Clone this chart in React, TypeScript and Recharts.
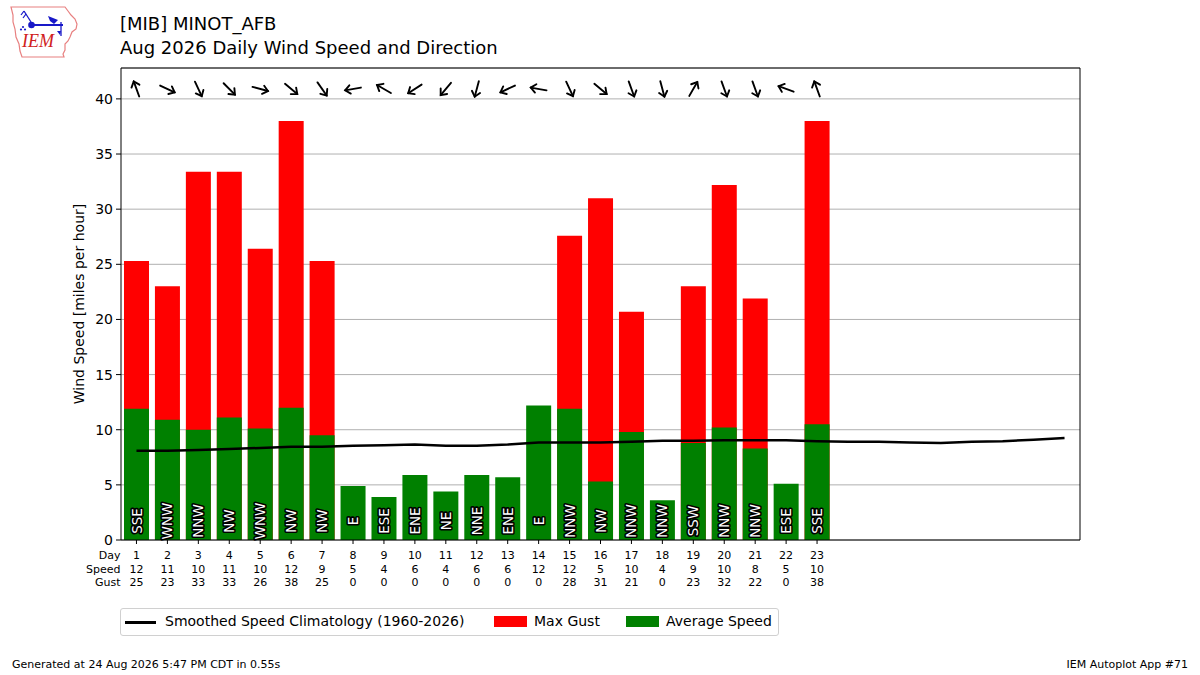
import { ComposedChart, Bar, Line, Scatter, XAxis, YAxis, CartesianGrid, LabelList } from 'recharts';

const FONT = '"DejaVu Sans", sans-serif';

// days of the month (x categories)
const days = [1, 2, 3, 4, 5, 6, 7, 8, 9, 10, 11, 12, 13, 14, 15, 16, 17, 18, 19, 20, 21, 22, 23, 24, 25, 26, 27, 28, 29, 30, 31];

// observed values, days 1..23
const avgSpeed = [11.9, 10.9, 10.0, 11.1, 10.1, 12.0, 9.5, 4.9, 3.9, 5.9, 4.4, 5.9, 5.7, 12.2, 11.9, 5.3, 9.8, 3.6, 8.8, 10.2, 8.3, 5.1, 10.5];
const maxGust = [25.3, 23.0, 33.4, 33.4, 26.4, 38.0, 25.3, 0, 0, 0, 0, 0, 0, 0, 27.6, 31.0, 20.7, 0, 23.0, 32.2, 21.9, 0, 38.0];

// table rows under the axis
const speedTable = [12, 11, 10, 11, 10, 12, 9, 5, 4, 6, 4, 6, 6, 12, 12, 5, 10, 4, 9, 10, 8, 5, 10];
const gustTable = [25, 23, 33, 33, 26, 38, 25, 0, 0, 0, 0, 0, 0, 0, 28, 31, 21, 0, 23, 32, 22, 0, 38];

// wind direction (from), text and degrees
const dirText = ['SSE', 'WNW', 'NNW', 'NW', 'WNW', 'NW', 'NW', 'E', 'ESE', 'ENE', 'NE', 'NNE', 'ENE', 'E', 'NNW', 'NW', 'NNW', 'NNW', 'SSW', 'NNW', 'NNW', 'ESE', 'SSE'];
const dirDeg = [160, 295, 335, 315, 285, 310, 325, 80, 120, 57, 40, 15, 65, 100, 335, 310, 340, 345, 210, 340, 340, 110, 160];

// smoothed climatology, days 1..31
const climo = [8.1, 8.1, 8.15, 8.25, 8.35, 8.45, 8.45, 8.55, 8.6, 8.65, 8.55, 8.55, 8.65, 8.85, 8.85, 8.85, 8.9, 9.0, 9.0, 9.05, 9.05, 9.05, 8.95, 8.9, 8.9, 8.85, 8.8, 8.9, 8.95, 9.1, 9.25];

const yTicks = [0, 5, 10, 15, 20, 25, 30, 35, 40];
const ARROW_LEVEL = 40.9;

const rows = days.map((d, i) => ({
  day: d,
  speed: avgSpeed[i],
  gust: maxGust[i],
  climo: climo[i],
  arrow: i < dirDeg.length ? ARROW_LEVEL : undefined,
  dir: dirText[i],
  deg: dirDeg[i],
}));

const DayTick = (props: any) => {
  const { x, y, payload } = props;
  const i = days.indexOf(payload.value);
  if (i < 0 || i >= speedTable.length) return <g />;
  return (
    <g fontFamily={FONT} fontSize={11} fill="#000">
      <line x1={x} x2={x} y1={y} y2={y + 4} stroke="#000" />
      <text x={x} y={y + 19} textAnchor="middle">{days[i]}</text>
      <text x={x} y={y + 33} textAnchor="middle">{speedTable[i]}</text>
      <text x={x} y={y + 46} textAnchor="middle">{gustTable[i]}</text>
      {i === 0 && (
        <>
          <text x={x - 16} y={y + 19} textAnchor="end">Day</text>
          <text x={x - 16} y={y + 33} textAnchor="end">Speed</text>
          <text x={x - 16} y={y + 46} textAnchor="end">Gust</text>
        </>
      )}
    </g>
  );
};

const DirLabel = (props: any) => {
  const vb = props.viewBox || {};
  const x = props.x ?? vb.x;
  const y = props.y ?? vb.y;
  const width = props.width ?? vb.width;
  const height = props.height ?? vb.height;
  const t = props.value;
  if (!t || x == null) return null;
  const cx = x + width / 2;
  const cy = y + height - 19;
  return (
    <text
      x={cx}
      y={cy}
      transform={`rotate(-90 ${cx} ${cy})`}
      textAnchor="middle"
      dominantBaseline="central"
      fontFamily={FONT}
      fontSize={13.5}
      fill="#fff"
      stroke="#000"
      strokeWidth={3.2}
      paintOrder="stroke"
      strokeLinejoin="round"
    >
      {t}
    </text>
  );
};

const WindArrow = (props: any) => {
  const { cx, cy, payload } = props;
  if (payload == null || payload.deg == null || cx == null || cy == null || isNaN(cy)) return <g />;
  const rot = payload.deg + 180;
  return (
    <g transform={`translate(${cx},${cy}) rotate(${rot})`} stroke="#000" strokeWidth={1.9} fill="none" strokeLinecap="round">
      <line x1={0} y1={8} x2={0} y2={-8} />
      <polyline points="-4.2,-3 0,-8 4.2,-3" />
    </g>
  );
};

function Logo() {
  return (
    <svg width={72} height={56} style={{ position: 'absolute', left: 8, top: 4 }}>
      <path
        d="M3,3 L57,3 L60,7 L63,11 L67,15 L69,20 L68,25 L64,28 L62,33 L60,37 L57,40 L57,46 L55,50 L56,53 L14,53 L12,47 L11,40 L8,33 L7,25 L5,18 L5,11 Z"
        fill="#fff"
        stroke="#e88080"
        strokeWidth={1.2}
      />
      <line x1={23} y1={21} x2={55} y2={21} stroke="#1818c8" strokeWidth={2} />
      <circle cx={23.5} cy={21} r={3.3} fill="#1818c8" />
      <line x1={23} y1={18} x2={16} y2={7} stroke="#1818c8" strokeWidth={1.3} />
      <line x1={16} y1={7} x2={13} y2={11} stroke="#1818c8" strokeWidth={1.2} />
      <line x1={18} y1={10} x2={15} y2={14} stroke="#1818c8" strokeWidth={1.2} />
      <path d="M40,12 L50,16 L46,20 L42,17 Z" fill="#1818c8" />
      <line x1={53} y1={18} x2={53} y2={32} stroke="#1818c8" strokeWidth={1.3} />
      <path d="M49,27 L53,27 L52,31 Z" fill="#1818c8" />
      <circle cx={15} cy={23} r={1.1} fill="#1818c8" />
      <circle cx={13} cy={25.5} r={1.1} fill="#1818c8" />
      <circle cx={17} cy={25.5} r={1.1} fill="#1818c8" />
      <text x={14} y={43} fontFamily='"Liberation Serif", serif' fontStyle="italic" fontSize={18} fill="#d02020">IEM</text>
    </svg>
  );
}

export default function App() {
  return (
    <div style={{ position: 'absolute', left: 0, top: 0, width: 1200, height: 675, background: '#fff', fontFamily: FONT, color: '#000' }}>
      <Logo />
      <div style={{ position: 'absolute', left: 120, top: 12, fontSize: 18, lineHeight: '24px' }}>
        <div>[MIB] MINOT_AFB</div>
        <div>Aug 2026 Daily Wind Speed and Direction</div>
      </div>

      <ComposedChart
        width={1200}
        height={675}
        data={rows}
        margin={{ top: 67, right: 119, bottom: 85, left: 71 }}
        barGap={-25}
      >
        <CartesianGrid vertical={false} stroke="#b0b0b0" />
        <XAxis
          dataKey="day"
          interval={0}
          height={50}
          tick={<DayTick />}
          tickLine={false}
          tickSize={0}
          tickMargin={0}
          axisLine={{ stroke: '#000' }}
        />
        <XAxis xAxisId="top" dataKey="day" orientation="top" height={1} tick={false} tickLine={false} axisLine={{ stroke: '#000' }} />
        <YAxis
          domain={[0, 42.8]}
          ticks={yTicks}
          allowDataOverflow
          width={50}
          tickSize={5}
          tickMargin={3}
          tick={{ fontSize: 14, fill: '#000', fontFamily: FONT }}
          axisLine={{ stroke: '#000' }}
          tickLine={{ stroke: '#000' }}
        />
        <YAxis yAxisId="r" orientation="right" width={1} domain={[0, 1]} tick={false} tickLine={false} axisLine={{ stroke: '#000' }} />
        <Bar dataKey="gust" fill="#ff0000" barSize={25} isAnimationActive={false} />
        <Bar dataKey="speed" fill="#008000" barSize={25} isAnimationActive={false}>
          <LabelList dataKey="dir" content={DirLabel} />
        </Bar>
        <Line dataKey="climo" stroke="#000" strokeWidth={2.5} dot={false} type="linear" isAnimationActive={false} />
        <Scatter dataKey="arrow" shape={WindArrow} isAnimationActive={false} />
      </ComposedChart>

      <div
        style={{
          position: 'absolute',
          left: 79,
          top: 304,
          transform: 'translate(-50%, -50%) rotate(-90deg)',
          fontSize: 14,
          whiteSpace: 'nowrap',
        }}
      >
        Wind Speed [miles per hour]
      </div>

      <div
        style={{
          position: 'absolute',
          left: 120,
          top: 608,
          width: 657,
          height: 26,
          border: '1px solid #d0d0d0',
          borderRadius: 3,
          background: '#fff',
          fontSize: 14,
        }}
      >
        <div style={{ position: 'absolute', left: 4, top: 12, width: 31, height: 2.5, background: '#000' }} />
        <div style={{ position: 'absolute', left: 44, top: 4, whiteSpace: 'nowrap' }}>Smoothed Speed Climatology (1960-2026)</div>
        <div style={{ position: 'absolute', left: 373, top: 7, width: 33, height: 11, background: '#ff0000' }} />
        <div style={{ position: 'absolute', left: 413, top: 4, whiteSpace: 'nowrap' }}>Max Gust</div>
        <div style={{ position: 'absolute', left: 505, top: 7, width: 33, height: 11, background: '#008000' }} />
        <div style={{ position: 'absolute', left: 545, top: 4, whiteSpace: 'nowrap' }}>Average Speed</div>
      </div>

      <div style={{ position: 'absolute', left: 12, top: 658, fontSize: 11, whiteSpace: 'nowrap' }}>
        Generated at 24 Aug 2026 5:47 PM CDT in 0.55s
      </div>
      <div style={{ position: 'absolute', right: 12, top: 658, fontSize: 11, whiteSpace: 'nowrap' }}>
        IEM Autoplot App #71
      </div>
    </div>
  );
}
